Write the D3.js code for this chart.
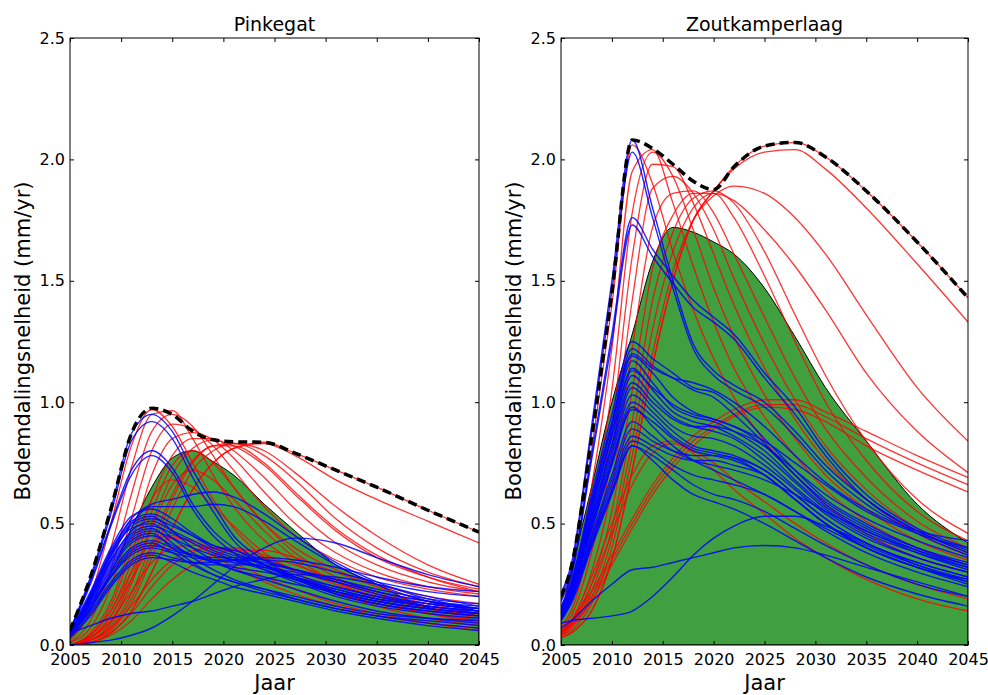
<!DOCTYPE html>
<html><head><meta charset="utf-8">
<script src="https://cdn.jsdelivr.net/npm/d3@7"></script>
<style>body{margin:0;background:#fff} svg{display:block}</style>
</head><body><svg id="c" width="988" height="695"></svg>
<script>
// ---------- data ----------
const xTicks = [2005,2010,2015,2020,2025,2030,2035,2040,2045];
const yTicks = [0,0.5,1.0,1.5,2.0,2.5];
const titles = ["Pinkegat","Zoutkamperlaag"];
const xLabel = "Jaar";
const yLabel = "Bodemdalingsnelheid (mm/yr)";

// Pinkegat
const yearsP = [2005,2007,2009,2011,2013,2015,2017,2019,2021,2024,2027,2031,2035,2040,2045];
const greenP = [0.03,0.15,0.30,0.48,0.65,0.77,0.80,0.755,0.70,0.58,0.47,0.33,0.25,0.155,0.13];
const envP   = [0.06,0.28,0.56,0.87,0.975,0.95,0.88,0.845,0.837,0.835,0.79,0.72,0.65,0.555,0.465];
const redP = [
 [0.03,0.20,0.50,0.82,0.97,0.90,0.75,0.60,0.48,0.36,0.28,0.21,0.17,0.13,0.10],
 [0.02,0.14,0.40,0.73,0.95,0.965,0.85,0.70,0.57,0.43,0.34,0.26,0.21,0.16,0.12],
 [0.01,0.10,0.31,0.62,0.88,0.95,0.90,0.78,0.65,0.50,0.40,0.31,0.25,0.20,0.17],
 [0.01,0.07,0.24,0.52,0.80,0.91,0.89,0.82,0.72,0.57,0.45,0.35,0.28,0.23,0.20],
 [0.00,0.05,0.18,0.42,0.70,0.85,0.875,0.845,0.77,0.63,0.50,0.38,0.30,0.24,0.21],
 [0.00,0.04,0.14,0.34,0.60,0.78,0.85,0.85,0.80,0.69,0.56,0.42,0.33,0.26,0.22],
 [0.00,0.03,0.10,0.27,0.50,0.70,0.81,0.845,0.82,0.74,0.62,0.47,0.36,0.28,0.23],
 [0.00,0.02,0.08,0.21,0.42,0.62,0.76,0.82,0.83,0.78,0.68,0.52,0.40,0.30,0.24],
 [0.00,0.01,0.05,0.14,0.30,0.48,0.64,0.75,0.81,0.835,0.79,0.72,0.65,0.555,0.465],
 [0.00,0.01,0.05,0.14,0.30,0.48,0.64,0.75,0.81,0.83,0.78,0.68,0.60,0.51,0.42],
 [0.00,0.02,0.06,0.17,0.36,0.56,0.72,0.80,0.83,0.80,0.71,0.57,0.45,0.33,0.25],
 [0.00,0.02,0.07,0.19,0.39,0.60,0.75,0.82,0.82,0.75,0.63,0.48,0.37,0.28,0.22],
 [0.00,0.03,0.10,0.22,0.34,0.40,0.41,0.40,0.38,0.33,0.28,0.22,0.17,0.13,0.10],
 [0.00,0.02,0.07,0.16,0.27,0.35,0.39,0.40,0.39,0.36,0.31,0.25,0.20,0.15,0.12],
 [0.00,0.01,0.04,0.10,0.19,0.27,0.33,0.37,0.39,0.39,0.36,0.30,0.24,0.18,0.14],
 [0.00,0.04,0.14,0.30,0.42,0.45,0.42,0.37,0.32,0.26,0.21,0.16,0.12,0.09,0.07],
 [0.00,0.03,0.12,0.27,0.40,0.44,0.43,0.39,0.34,0.28,0.23,0.17,0.13,0.09,0.06],
 [0.00,0.01,0.05,0.13,0.24,0.33,0.38,0.40,0.40,0.37,0.33,0.27,0.22,0.17,0.13],
 [0.00,0.04,0.16,0.38,0.60,0.68,0.65,0.57,0.49,0.38,0.30,0.22,0.16,0.11,0.08],
 [0.00,0.02,0.09,0.25,0.48,0.66,0.72,0.68,0.60,0.47,0.36,0.26,0.19,0.13,0.09],
 [0.00,0.03,0.12,0.30,0.55,0.74,0.80,0.75,0.65,0.50,0.38,0.28,0.21,0.15,0.11]
];
const blueP = [
 [0.06,0.28,0.56,0.87,0.95,0.88,0.72,0.58,0.45,0.35,0.28,0.22,0.18,0.15,0.13],
 [0.06,0.27,0.54,0.84,0.92,0.85,0.69,0.55,0.43,0.33,0.27,0.21,0.17,0.14,0.12],
 [0.06,0.26,0.50,0.72,0.80,0.73,0.58,0.47,0.40,0.33,0.27,0.21,0.17,0.14,0.12],
 [0.06,0.25,0.49,0.70,0.78,0.71,0.56,0.45,0.38,0.31,0.26,0.20,0.16,0.13,0.11],
 [0.05,0.20,0.38,0.52,0.58,0.60,0.62,0.63,0.61,0.54,0.45,0.34,0.26,0.19,0.15],
 [0.05,0.19,0.36,0.50,0.57,0.57,0.57,0.58,0.57,0.51,0.43,0.33,0.25,0.18,0.14],
 [0.00,0.01,0.02,0.04,0.07,0.12,0.18,0.25,0.32,0.40,0.44,0.42,0.36,0.29,0.24],
 [0.05,0.08,0.11,0.13,0.14,0.16,0.18,0.21,0.24,0.27,0.29,0.28,0.25,0.20,0.16],
 [0.06,0.22,0.40,0.53,0.56,0.52,0.46,0.41,0.38,0.33,0.28,0.22,0.18,0.15,0.13],
 [0.05,0.21,0.39,0.51,0.54,0.50,0.45,0.40,0.37,0.33,0.29,0.24,0.20,0.16,0.14],
 [0.05,0.20,0.37,0.49,0.52,0.49,0.45,0.41,0.39,0.35,0.31,0.26,0.21,0.17,0.15],
 [0.05,0.19,0.35,0.46,0.49,0.46,0.42,0.38,0.35,0.31,0.27,0.22,0.18,0.15,0.13],
 [0.04,0.18,0.33,0.44,0.47,0.44,0.40,0.37,0.35,0.32,0.28,0.24,0.20,0.17,0.15],
 [0.05,0.18,0.34,0.45,0.48,0.42,0.36,0.31,0.27,0.23,0.19,0.15,0.12,0.09,0.07],
 [0.04,0.17,0.31,0.42,0.45,0.41,0.37,0.34,0.32,0.30,0.27,0.23,0.19,0.16,0.14],
 [0.04,0.16,0.30,0.40,0.43,0.40,0.37,0.35,0.34,0.32,0.30,0.26,0.22,0.18,0.15],
 [0.04,0.15,0.28,0.37,0.40,0.38,0.36,0.35,0.35,0.34,0.31,0.27,0.22,0.18,0.16],
 [0.04,0.14,0.26,0.35,0.38,0.36,0.34,0.33,0.33,0.33,0.31,0.27,0.23,0.19,0.17],
 [0.03,0.13,0.25,0.34,0.37,0.34,0.30,0.27,0.24,0.21,0.18,0.14,0.11,0.08,0.06],
 [0.04,0.17,0.32,0.43,0.46,0.40,0.34,0.29,0.26,0.22,0.19,0.15,0.12,0.10,0.08],
 [0.05,0.20,0.37,0.48,0.50,0.44,0.38,0.34,0.31,0.28,0.25,0.22,0.19,0.16,0.14],
 [0.04,0.15,0.28,0.38,0.41,0.39,0.37,0.36,0.36,0.35,0.34,0.30,0.26,0.22,0.20],
 [0.03,0.12,0.24,0.33,0.36,0.35,0.34,0.34,0.35,0.36,0.35,0.32,0.28,0.24,0.22],
 [0.05,0.21,0.38,0.50,0.53,0.47,0.40,0.35,0.31,0.27,0.23,0.18,0.14,0.11,0.09],
 [0.04,0.16,0.29,0.39,0.42,0.38,0.33,0.29,0.26,0.23,0.20,0.16,0.13,0.11,0.10],
 [0.05,0.19,0.35,0.47,0.51,0.47,0.43,0.39,0.36,0.32,0.28,0.23,0.19,0.16,0.13]
];

// Zoutkamperlaag
const yearsZ = [2005,2006,2008,2010,2012,2014,2016,2018,2020,2022,2025,2028,2031,2035,2040,2045];
const greenZ = [0.12,0.30,0.65,1.00,1.28,1.58,1.72,1.70,1.66,1.61,1.47,1.27,1.06,0.84,0.58,0.42];
const envZ   = [0.20,0.32,0.85,1.45,2.08,2.045,1.98,1.91,1.875,1.97,2.055,2.07,2.01,1.87,1.66,1.43];
const redZ = [
 [0.15,0.28,0.80,1.40,2.06,1.90,1.62,1.38,1.18,1.02,0.84,0.70,0.58,0.46,0.36,0.30],
 [0.12,0.22,0.65,1.22,1.95,2.04,1.82,1.56,1.33,1.14,0.94,0.78,0.64,0.51,0.40,0.33],
 [0.10,0.18,0.55,1.05,1.78,2.03,1.93,1.71,1.47,1.27,1.03,0.85,0.70,0.56,0.43,0.35],
 [0.08,0.14,0.45,0.90,1.60,1.98,1.97,1.82,1.61,1.40,1.14,0.93,0.76,0.60,0.46,0.37],
 [0.07,0.12,0.38,0.78,1.42,1.88,1.93,1.86,1.71,1.51,1.24,1.01,0.82,0.64,0.48,0.38],
 [0.06,0.10,0.30,0.65,1.22,1.72,1.86,1.87,1.78,1.61,1.35,1.10,0.89,0.69,0.51,0.40],
 [0.06,0.09,0.25,0.55,1.05,1.55,1.77,1.86,1.86,1.76,1.52,1.25,1.00,0.76,0.55,0.43],
 [0.05,0.08,0.22,0.48,0.92,1.42,1.70,1.84,1.87,1.82,1.62,1.36,1.11,0.84,0.60,0.46],
 [0.03,0.05,0.14,0.35,0.72,1.15,1.50,1.75,1.87,1.97,2.055,2.07,2.01,1.87,1.66,1.43],
 [0.03,0.05,0.14,0.35,0.72,1.15,1.50,1.75,1.87,1.96,2.03,2.04,1.96,1.80,1.57,1.33],
 [0.04,0.06,0.17,0.40,0.78,1.20,1.54,1.75,1.85,1.89,1.86,1.76,1.61,1.36,1.06,0.84],
 [0.04,0.07,0.19,0.44,0.84,1.30,1.62,1.80,1.86,1.83,1.71,1.56,1.38,1.12,0.88,0.71],
 [0.05,0.10,0.22,0.37,0.52,0.66,0.77,0.86,0.92,0.97,1.01,1.01,0.96,0.88,0.78,0.69],
 [0.05,0.09,0.20,0.35,0.50,0.64,0.75,0.84,0.90,0.95,0.99,0.99,0.94,0.85,0.75,0.66],
 [0.04,0.08,0.18,0.33,0.48,0.62,0.73,0.82,0.89,0.94,0.98,0.97,0.92,0.82,0.72,0.63],
 [0.05,0.10,0.28,0.50,0.70,0.82,0.84,0.79,0.72,0.64,0.54,0.44,0.36,0.27,0.19,0.14],
 [0.05,0.09,0.25,0.46,0.66,0.79,0.83,0.80,0.75,0.68,0.59,0.50,0.42,0.33,0.25,0.19]
];
const blueZ = [
 [0.21,0.33,0.90,1.50,2.08,1.80,1.50,1.24,1.13,1.07,1.00,0.88,0.74,0.60,0.47,0.38],
 [0.20,0.31,0.87,1.46,2.03,1.76,1.47,1.22,1.11,1.05,0.98,0.86,0.72,0.58,0.46,0.37],
 [0.19,0.29,0.78,1.28,1.76,1.63,1.52,1.42,1.35,1.28,1.12,0.98,0.80,0.62,0.48,0.40],
 [0.18,0.28,0.76,1.25,1.73,1.60,1.49,1.39,1.33,1.26,1.10,0.95,0.78,0.60,0.47,0.39],
 [0.16,0.26,0.62,0.95,1.25,1.18,1.12,1.06,1.04,0.98,0.85,0.72,0.60,0.50,0.40,0.33],
 [0.15,0.25,0.60,0.92,1.22,1.15,1.10,1.05,1.02,0.95,0.83,0.70,0.58,0.48,0.39,0.32],
 [0.15,0.24,0.58,0.90,1.19,1.12,1.02,0.96,0.93,0.90,0.82,0.70,0.59,0.49,0.40,0.34],
 [0.14,0.24,0.57,0.88,1.17,1.08,0.98,0.94,0.92,0.88,0.80,0.68,0.57,0.47,0.39,0.33],
 [0.14,0.23,0.55,0.86,1.14,1.05,0.96,0.92,0.90,0.86,0.78,0.67,0.56,0.46,0.38,0.32],
 [0.13,0.22,0.53,0.83,1.11,1.02,0.94,0.90,0.88,0.85,0.76,0.65,0.55,0.45,0.36,0.30],
 [0.13,0.22,0.51,0.80,1.06,0.98,0.90,0.86,0.85,0.82,0.74,0.64,0.54,0.44,0.36,0.30],
 [0.12,0.21,0.50,0.78,1.03,0.96,0.88,0.82,0.80,0.78,0.72,0.62,0.52,0.42,0.34,0.28],
 [0.12,0.21,0.49,0.76,1.00,0.94,0.86,0.81,0.79,0.77,0.70,0.60,0.50,0.40,0.32,0.27],
 [0.12,0.20,0.47,0.74,0.97,0.92,0.85,0.80,0.78,0.76,0.70,0.60,0.50,0.40,0.32,0.26],
 [0.11,0.19,0.44,0.68,0.89,0.84,0.80,0.78,0.78,0.77,0.72,0.62,0.52,0.42,0.34,0.28],
 [0.11,0.19,0.43,0.66,0.86,0.82,0.78,0.76,0.76,0.74,0.70,0.60,0.50,0.41,0.33,0.27],
 [0.10,0.18,0.42,0.64,0.84,0.80,0.74,0.70,0.68,0.66,0.62,0.55,0.47,0.38,0.30,0.24],
 [0.10,0.18,0.41,0.63,0.82,0.78,0.72,0.66,0.62,0.60,0.55,0.48,0.41,0.33,0.25,0.20],
 [0.10,0.17,0.40,0.62,0.82,0.76,0.68,0.62,0.59,0.56,0.50,0.43,0.36,0.28,0.21,0.16],
 [0.11,0.19,0.45,0.70,0.92,0.86,0.80,0.76,0.74,0.72,0.68,0.62,0.55,0.47,0.38,0.31],
 [0.13,0.22,0.52,0.82,1.08,1.00,0.93,0.90,0.90,0.88,0.82,0.72,0.62,0.52,0.43,0.36],
 [0.14,0.23,0.55,0.86,1.13,1.06,0.99,0.95,0.93,0.90,0.84,0.75,0.66,0.55,0.46,0.40],
 [0.15,0.25,0.59,0.91,1.20,1.14,1.10,1.08,1.05,1.00,0.90,0.78,0.67,0.56,0.47,0.43],
 [0.12,0.20,0.48,0.75,0.98,0.90,0.82,0.76,0.72,0.68,0.62,0.55,0.48,0.40,0.32,0.25],
 [0.07,0.10,0.18,0.25,0.31,0.32,0.34,0.36,0.38,0.40,0.41,0.40,0.37,0.32,0.26,0.20],
 [0.09,0.10,0.11,0.12,0.14,0.20,0.28,0.37,0.44,0.49,0.53,0.53,0.49,0.42,0.33,0.26]
];

// ---------- drawing ----------
const svg = d3.select("#c");
const FONT = "DejaVu Sans, sans-serif";
const plotTop = 38, plotBottom = 645;

function panel(x0, x1, years, green, env, reds, blues, title, idx) {
  const x = d3.scaleLinear().domain([2005, 2045]).range([x0, x1]);
  const y = d3.scaleLinear().domain([0, 2.5]).range([plotBottom, plotTop]);
  const cid = "clip" + idx;
  svg.append("clipPath").attr("id", cid).append("rect")
    .attr("x", x0).attr("y", plotTop).attr("width", x1 - x0).attr("height", plotBottom - plotTop);
  const g = svg.append("g").attr("clip-path", `url(#${cid})`);

  const area = d3.area().x((d, i) => x(years[i])).y0(y(0)).y1(d => y(d)).curve(d3.curveMonotoneX);
  g.append("path").datum(green).attr("d", area)
    .attr("fill", "#40a040").attr("stroke", "#000").attr("stroke-width", 1);

  const line = d3.line().x((d, i) => x(years[i])).y(d => y(d)).curve(d3.curveMonotoneX);
  g.selectAll("path.red").data(reds).join("path").attr("class", "red")
    .attr("d", line).attr("fill", "none").attr("stroke", "#ff0000")
    .attr("stroke-opacity", 0.8).attr("stroke-width", 1.3);
  g.selectAll("path.blue").data(blues).join("path").attr("class", "blue")
    .attr("d", line).attr("fill", "none").attr("stroke", "#0000ff")
    .attr("stroke-opacity", 0.85).attr("stroke-width", 1.4);
  g.append("path").datum(env).attr("d", line).attr("fill", "none")
    .attr("stroke", "#000").attr("stroke-width", 3.5).attr("stroke-dasharray", "9,5");

  const styleAxis = sel => {
    sel.select(".domain").remove();
    sel.selectAll("line").attr("stroke", "#000");
    sel.selectAll("text").attr("fill", "#000").attr("font-family", FONT).attr("font-size", 16);
  };
  svg.append("g").attr("transform", `translate(0,${plotBottom})`)
    .call(d3.axisBottom(x).tickValues(xTicks).tickSize(-4).tickPadding(9).tickFormat(d3.format("d")))
    .call(styleAxis);
  svg.append("g").attr("transform", `translate(0,${plotTop})`)
    .call(d3.axisTop(x).tickValues(xTicks).tickSize(-4).tickFormat(""))
    .call(styleAxis);
  svg.append("g").attr("transform", `translate(${x0},0)`)
    .call(d3.axisLeft(y).tickValues(yTicks).tickSize(-4).tickPadding(5).tickFormat(d3.format(".1f")))
    .call(styleAxis);
  svg.append("g").attr("transform", `translate(${x1},0)`)
    .call(d3.axisRight(y).tickValues(yTicks).tickSize(-4).tickFormat(""))
    .call(styleAxis);

  svg.append("rect").attr("x", x0).attr("y", plotTop).attr("width", x1 - x0).attr("height", plotBottom - plotTop)
    .attr("fill", "none").attr("stroke", "#000").attr("stroke-width", 1);

  svg.append("text").attr("x", (x0 + x1) / 2).attr("y", 31).attr("text-anchor", "middle")
    .attr("font-family", FONT).attr("font-size", 19).text(title);
  svg.append("text").attr("x", (x0 + x1) / 2).attr("y", 690).attr("text-anchor", "middle")
    .attr("font-family", FONT).attr("font-size", 21).text(xLabel);
  svg.append("text").attr("transform", `translate(${x0 - 40},341) rotate(-90)`)
    .attr("text-anchor", "middle").attr("font-family", FONT).attr("font-size", 21).text(yLabel);
}

panel(70, 479, yearsP, greenP, envP, redP, blueP, titles[0], 0);
panel(561, 968, yearsZ, greenZ, envZ, redZ, blueZ, titles[1], 1);
</script></body></html>
